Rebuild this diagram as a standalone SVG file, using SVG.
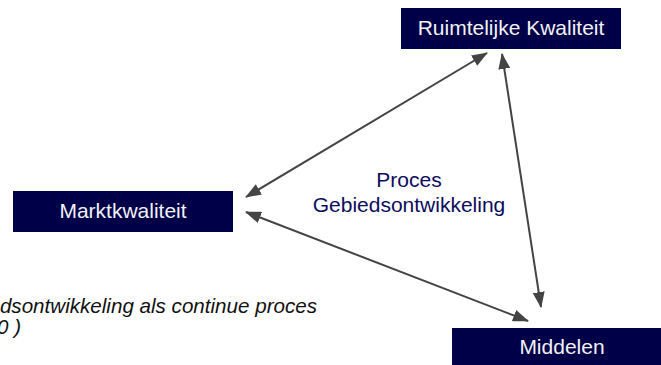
<svg xmlns="http://www.w3.org/2000/svg" width="661" height="365" viewBox="0 0 661 365">
<defs>
<style>
.box{fill:#000048;}
.lbl{font-family:"Liberation Sans",Arial,sans-serif;font-size:21px;fill:#f2f2f2;text-anchor:middle;}
.mid{font-family:"Liberation Sans",Arial,sans-serif;font-size:21px;fill:#0c0c5c;text-anchor:middle;}
.cap{font-family:"Liberation Sans",Arial,sans-serif;font-size:20.6px;font-style:italic;fill:#111;}
.con{stroke:#444;stroke-width:2;fill:none;marker-start:url(#ah);marker-end:url(#ah);}
</style>
<marker id="ah" viewBox="0 0 16 12" refX="15" refY="6" markerWidth="16" markerHeight="12" markerUnits="userSpaceOnUse" orient="auto-start-reverse">
<path d="M0,0 L16,6 L0,12 Z" fill="#444"/>
</marker>
</defs>
<rect width="661" height="365" fill="#fff"/>
<g id="connectors">
<line class="con" x1="246" y1="197" x2="487" y2="53"/>
<line class="con" x1="502" y1="54" x2="541" y2="307"/>
<line class="con" x1="246" y1="212" x2="528" y2="321"/>
</g>
<g id="ruimtelijke">
<rect class="box" x="401" y="8" width="220" height="41"/>
<text class="lbl" x="511" y="35">Ruimtelijke Kwaliteit</text>
</g>
<g id="markt">
<rect class="box" x="13" y="191" width="220" height="41"/>
<text class="lbl" x="123" y="218">Marktkwaliteit</text>
</g>
<g id="middelen">
<rect class="box" x="452" y="328" width="220" height="41"/>
<text class="lbl" x="562" y="354">Middelen</text>
</g>
<g id="proces">
<text class="mid" x="409" y="187">Proces</text>
<text class="mid" x="409" y="212">Gebiedsontwikkeling</text>
</g>
<g id="caption">
<text class="cap" x="317" y="313" text-anchor="end">dsontwikkeling als continue proces</text>
<text class="cap" x="-3" y="334">0 )</text>
</g>
</svg>
